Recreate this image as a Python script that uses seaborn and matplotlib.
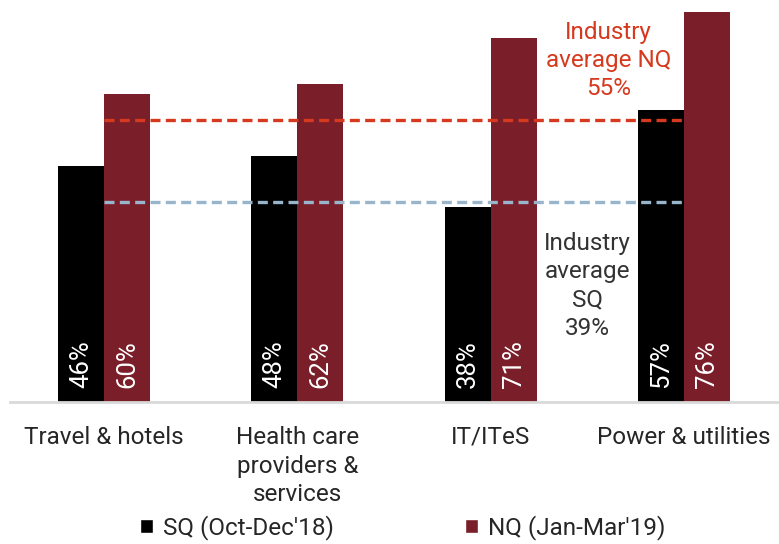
import numpy as np
import pandas as pd
import seaborn as sns
import matplotlib.pyplot as plt
from matplotlib.patches import Patch

categories = ['Travel & hotels', 'Health care\nproviders &\nservices', 'IT/ITeS', 'Power & utilities']
sq_values = [46, 48, 38, 57]
nq_values = [60, 62, 71, 76]
sq_label = "SQ (Oct-Dec'18)"
nq_label = "NQ (Jan-Mar'19)"
avg_sq = 39
avg_nq = 55

sq_color = '#000000'
nq_color = '#7a1e2a'

df = pd.DataFrame({
    'sector': categories * 2,
    'period': [sq_label] * 4 + [nq_label] * 4,
    'share': sq_values + nq_values,
})

sns.set_theme(style='white')
plt.rcParams['font.family'] = ['Roboto', 'DejaVu Sans']

fig = plt.figure(figsize=(7.79, 5.44), dpi=100)
ax = fig.add_axes([10 / 779, 142 / 544, 769 / 779, 402 / 544])

sns.barplot(data=df, x='sector', y='share', hue='period', order=categories,
            hue_order=[sq_label, nq_label], palette={sq_label: sq_color, nq_label: nq_color},
            width=0.476, saturation=1, legend=False, linewidth=0, ax=ax)

# value labels inside bars
for cont, vals in zip(ax.containers, [sq_values, nq_values]):
    for bar, v in zip(cont, vals):
        ax.text(bar.get_x() + bar.get_width() / 2, 2.8, f'{v}%', rotation=90,
                ha='center', va='bottom', color='white', fontsize=18.5)

# industry averages
ax.hlines(avg_nq, 0, 3, colors='#d63a1e', linewidth=2.4, linestyles=(0, (3, 1.6)), zorder=5)
ax.hlines(avg_sq, 0, 3, colors='#98b5cc', linewidth=2.4, linestyles=(0, (3, 1.6)), zorder=5)
ax.text(2.61, 66.6, f'Industry\naverage NQ\n{avg_nq}%', color='#d63a1e', ha='center',
        va='center', fontsize=17.5, linespacing=1.3)
ax.text(2.50, 22.6, f'Industry\naverage\nSQ\n{avg_sq}%', color='#333333', ha='center',
        va='center', fontsize=17.5, linespacing=1.3)

ax.set_xlim(-0.486, 3.49)
ax.set_ylim(0, 78.4)
ax.set_xlabel('')
ax.set_ylabel('')
ax.set_yticks([])
ax.tick_params(axis='x', length=0, pad=17, labelsize=17.5)
for lbl in ax.get_xticklabels():
    lbl.set_linespacing(1.33)
    lbl.set_va('top')
for s in ['top', 'right', 'left']:
    ax.spines[s].set_visible(False)
ax.spines['bottom'].set_color('#d9d9d9')
ax.spines['bottom'].set_linewidth(2)

handles = [Patch(facecolor=sq_color, label=sq_label), Patch(facecolor=nq_color, label=nq_label)]
fig.legend(handles=handles, loc='lower center', bbox_to_anchor=(0.517, -0.033), ncol=2,
           frameon=False, fontsize=17.5, handlelength=0.55, handleheight=0.55,
           handletextpad=0.4, columnspacing=5.4)

fig.savefig('out.png', dpi=100)
